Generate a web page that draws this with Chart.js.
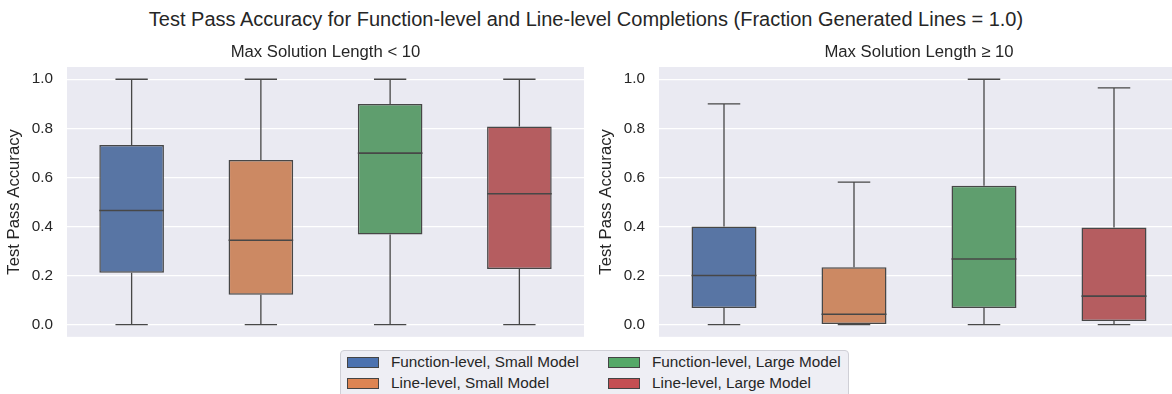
<!DOCTYPE html>
<html>
<head>
<meta charset="utf-8">
<script src="https://cdn.jsdelivr.net/npm/chart.js@4"></script>
<style>
  body { margin: 0; background: #fff; font-family: "Liberation Sans", Arial, sans-serif; overflow: hidden; }
  #wrap { position: relative; width: 1172px; height: 394px; overflow: hidden; }
  #suptitle { position: absolute; left: 0; top: 8px; width: 1172px; text-align: center; font-size: 20px; line-height: 23px; color: #262626; }
  .box { position: absolute; top: 0; height: 360px; }
  #legend { position: absolute; left: 340px; top: 350px; width: 507px; height: 50px; border: 1px solid #cfcfd6; border-radius: 4px; background: #eeeef4; font-size: 15.3px; color: #262626; z-index: 2; }
  .item { position: absolute; height: 20px; line-height: 20px; }
  .item span.patch { position: absolute; left: 0; top: 5px; width: 32px; height: 11px; border: 1px solid #444; box-sizing: border-box; }
  .item span.txt { position: absolute; left: 44px; top: 0; white-space: nowrap; }
</style>
</head>
<body>
<div id="wrap">
  <div id="suptitle">Test Pass Accuracy for Function-level and Line-level Completions (Fraction Generated Lines = 1.0)</div>
  <div class="box" style="left:0;width:590px"><canvas id="left"></canvas></div>
  <div class="box" style="left:592px;width:587px"><canvas id="right"></canvas></div>
  <div id="legend"></div>
</div>
<script>
const categories = ['Function-level, Small Model', 'Line-level, Small Model', 'Function-level, Large Model', 'Line-level, Large Model'];
const boxColors = ['#5875a4', '#cc8963', '#5f9e6e', '#b55d60'];
const legendColors = ['#4c72b0', '#dd8452', '#55a868', '#c44e52'];
const yTicks = [0.0, 0.2, 0.4, 0.6, 0.8, 1.0];

// Max Solution Length < 10
const shortLow = [0, 0, 0, 0];
const shortQ1 = [0.211, 0.122, 0.367, 0.226];
const shortMedian = [0.465, 0.344, 0.699, 0.533];
const shortQ3 = [0.732, 0.671, 0.899, 0.807];
const shortHigh = [1.0, 1.0, 1.0, 1.0];

// Max Solution Length >= 10
const longLow = [0, 0, 0, 0];
const longQ1 = [0.067, 0.0, 0.067, 0.015];
const longMedian = [0.2, 0.042, 0.267, 0.116];
const longQ3 = [0.4, 0.234, 0.566, 0.396];
const longHigh = [0.9, 0.581, 1.0, 0.965];

const lineColor = '#474747';
const fontFamily = '"Liberation Sans", Arial, sans-serif';

// whiskers, caps and medians, drawn off the bar elements and the y scale
const boxWhiskers = {
    id: 'boxWhiskers',
    afterDatasetsDraw(chart, args, opts) {
        const ctx = chart.ctx;
        const y = chart.scales.y;
        const bars = chart.getDatasetMeta(0).data;
        ctx.save();
        ctx.strokeStyle = lineColor;
        bars.forEach((bar, i) => {
            const x = bar.x, w = bar.width;
            const yq1 = y.getPixelForValue(opts.q1[i]);
            const yq3 = y.getPixelForValue(opts.q3[i]);
            const ylo = y.getPixelForValue(opts.low[i]);
            const yhi = y.getPixelForValue(opts.high[i]);
            const ymed = y.getPixelForValue(opts.median[i]);
            ctx.lineWidth = 1.3;
            ctx.beginPath();
            ctx.moveTo(x, yq1); ctx.lineTo(x, ylo);
            ctx.moveTo(x, yq3); ctx.lineTo(x, yhi);
            ctx.moveTo(x - w / 4, ylo); ctx.lineTo(x + w / 4, ylo);
            ctx.moveTo(x - w / 4, yhi); ctx.lineTo(x + w / 4, yhi);
            ctx.stroke();
            ctx.lineWidth = 1.6;
            ctx.beginPath();
            ctx.moveTo(x - w / 2, ymed); ctx.lineTo(x + w / 2, ymed);
            ctx.stroke();
        });
        ctx.restore();
    }
};

// plot background, plus the panel title centred over the plot area (as matplotlib does)
const axesDecor = {
    id: 'axesDecor',
    beforeDraw(chart) {
        const a = chart.chartArea;
        chart.ctx.save();
        chart.ctx.fillStyle = '#eaeaf2';
        chart.ctx.fillRect(a.left, a.top, a.right - a.left, a.bottom - a.top);
        chart.ctx.restore();
    },
    afterDraw(chart, args, opts) {
        const a = chart.chartArea;
        const ctx = chart.ctx;
        ctx.save();
        ctx.fillStyle = '#262626';
        ctx.font = '16.7px ' + fontFamily;
        ctx.textAlign = 'center';
        ctx.textBaseline = 'middle';
        ctx.fillText(opts.text, (a.left + a.right) / 2, a.top - 15);
        ctx.restore();
    }
};

function makeChart(id, title, low, q1, median, q3, high, padRight) {
    return new Chart(document.getElementById(id), {
        type: 'bar',
        data: {
            labels: categories,
            datasets: [{
                data: q1.map((v, i) => [v, q3[i]]),
                backgroundColor: boxColors,
                borderColor: lineColor,
                borderWidth: 1.5,
                borderSkipped: false,
                categoryPercentage: 1.0,
                barPercentage: 0.5
            }]
        },
        options: {
            responsive: true,
            maintainAspectRatio: false,
            animation: false,
            layout: { padding: { top: 67, bottom: 9, left: 0, right: padRight } },
            plugins: {
                legend: { display: false },
                tooltip: { enabled: false },
                title: { display: false },
                axesDecor: { text: title },
                boxWhiskers: { low, q1, median, q3, high }
            },
            scales: {
                x: { display: false },
                y: {
                    min: -0.05,
                    max: 1.05,
                    afterBuildTicks: (scale) => { scale.ticks = yTicks.map(v => ({ value: v })); },
                    afterFit: (scale) => { scale.width = 67; },
                    border: { display: false },
                    grid: { color: '#ffffff', lineWidth: 1.3, drawTicks: false },
                    ticks: {
                        color: '#262626',
                        padding: 14,
                        font: { family: fontFamily, size: 15.3 },
                        callback: (v) => Number(v).toFixed(1)
                    },
                    title: {
                        display: true,
                        text: 'Test Pass Accuracy',
                        color: '#262626',
                        font: { family: fontFamily, size: 16.7 },
                        padding: { top: 4, bottom: 0 }
                    }
                }
            }
        },
        plugins: [axesDecor, boxWhiskers]
    });
}

makeChart('left', 'Max Solution Length < 10', shortLow, shortQ1, shortMedian, shortQ3, shortHigh, 6);
makeChart('right', 'Max Solution Length \u2265 10', longLow, longQ1, longMedian, longQ3, longHigh, 0);

// shared legend below both panels
const legendPos = [[6, 1], [6, 22], [267, 1], [267, 22]];
const legend = document.getElementById('legend');
categories.forEach((c, i) => {
    const d = document.createElement('div');
    d.className = 'item';
    d.style.left = legendPos[i][0] + 'px';
    d.style.top = legendPos[i][1] + 'px';
    d.innerHTML = '<span class="patch" style="background:' + legendColors[i] + '"></span><span class="txt">' + c + '</span>';
    legend.appendChild(d);
});
</script>
</body>
</html>
